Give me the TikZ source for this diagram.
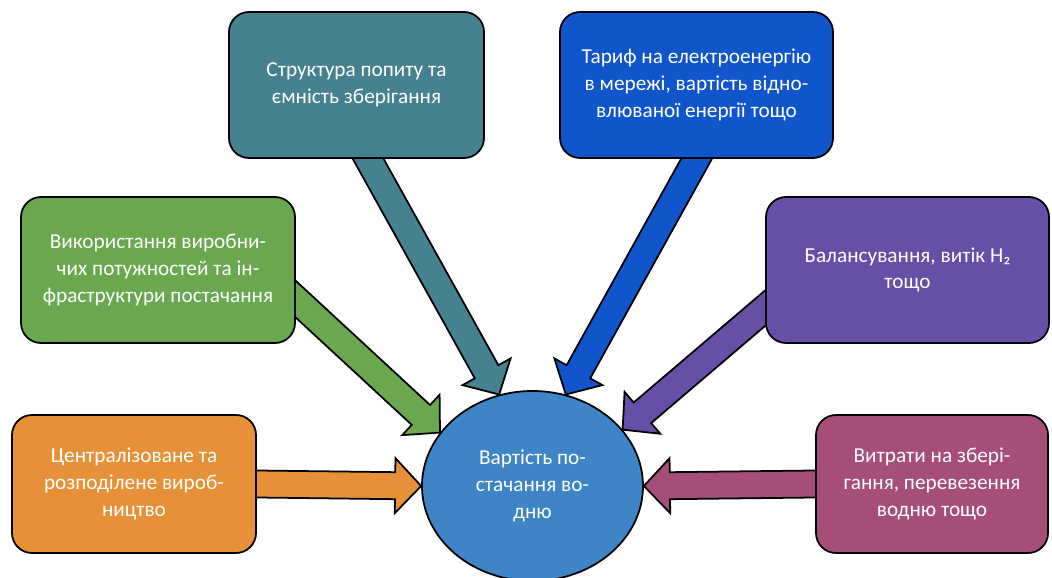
\documentclass[tikz,border=0pt]{standalone}
\usepackage{fontspec}
\setmainfont{Carlito}
\usetikzlibrary{calc,backgrounds,shapes.geometric}

\definecolor{cteal}{HTML}{45818E}
\definecolor{cblue}{HTML}{1155CC}
\definecolor{cgreen}{HTML}{6AA84F}
\definecolor{cpurple}{HTML}{674EA7}
\definecolor{corange}{HTML}{E69138}
\definecolor{cmagenta}{HTML}{A64D79}
\definecolor{chub}{HTML}{3D85C6}

% fat block arrow: colour, tail, tip
\newcommand{\fatarrow}[3]{%
  \coordinate (fatS) at ($(#2)!-5mm!(#3)$);
  \coordinate (fatB) at ($(#3)!5.2mm!(#2)$);
  \filldraw[fill=#1] ($(fatS)!2.7mm!90:(#3)$) -- ($(fatB)!2.7mm!90:(#3)$)
    -- ($(fatB)!5.5mm!90:(#3)$) -- (#3) -- ($(fatB)!5.5mm!-90:(#3)$)
    -- ($(fatB)!2.7mm!-90:(#3)$) -- ($(fatS)!2.7mm!-90:(#3)$) -- cycle;
}

\begin{document}
\begin{tikzpicture}[
  font=\fontsize{12.1}{15.2}\selectfont,
  every path/.style={line width=1pt},
  factor/.style={draw=black, rounded corners=4mm, align=center, text=white, minimum height=2.92cm},
  lowfactor/.style={factor, minimum height=2.76cm},
  hubnode/.style={draw=black, ellipse, align=center, text=white, fill=chub, minimum width=4.42cm, minimum height=3.8cm, inner sep=0pt}
]
\useasboundingbox (0,0) rectangle (21.04,-11.56);

% ----- Top row
\node[factor, fill=cteal, minimum width=5.10cm] at (7.13,-1.70) (teal) {Структура попиту та\\ємність зберігання};
\node[factor, fill=cblue, minimum width=5.46cm] at (13.93,-1.70) (blue) {Тариф на електроенергію\\в мережі, вартість відно-\\влюваної енергії тощо};

% ----- Middle row
\node[factor, fill=cgreen, minimum width=5.48cm] at (3.16,-5.40) (green) {Використання виробни-\\чих потужностей та ін-\\фраструктури постачання};
\node[factor, fill=cpurple, minimum width=5.66cm] at (18.15,-5.40) (purple) {Балансування, витік H₂\\тощо};

% ----- Bottom row
\node[lowfactor, fill=corange, minimum width=4.88cm] at (2.68,-9.68) (orng) {Централізоване та\\розподілене вироб-\\ництво};
\node[lowfactor, fill=cmagenta, minimum width=4.64cm] at (18.64,-9.68) (mag) {Витрати на збері-\\гання, перевезення\\водню тощо};

% ----- Centre
\node[hubnode] at (10.65,-9.72) (hub) {Вартість по-\\стачання во-\\дню};

% ----- Block arrows behind the boxes
\begin{pgfonlayer}{background}
\fatarrow{cteal}{teal.-81}{hub.110}
\fatarrow{cblue}{blue.south}{hub.70}
\fatarrow{cgreen}{green.-12}{hub.150}
\fatarrow{cpurple}{purple.195}{hub.32}
\fatarrow{corange}{orng.east}{hub.west}
\fatarrow{cmagenta}{mag.west}{hub.east}
\end{pgfonlayer}

\end{tikzpicture}
\end{document}
